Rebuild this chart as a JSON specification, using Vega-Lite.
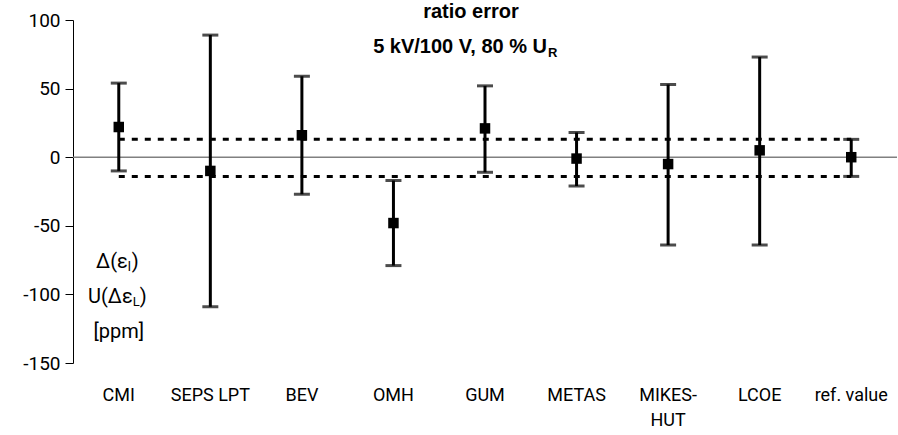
{
  "$schema": "https://vega.github.io/schema/vega-lite/v6.json",
  "width": 824,
  "height": 343,
  "autosize": "none",
  "padding": {"left": 73, "top": 20, "right": 1, "bottom": 72},
  "background": "white",
  "config": {
    "view": {"stroke": null},
    "font": "Roboto",
    "text": {"font": "Roboto"},
    "axis": {"grid": false, "title": null, "labelColor": "black", "labelFont": "Roboto", "labelFontSize": 18}
  },
  "datasets": {
    "results": [
      {"lab": "CMI", "value": 22, "lo": -10, "hi": 54},
      {"lab": "SEPS LPT", "value": -10, "lo": -109, "hi": 89},
      {"lab": "BEV", "value": 16, "lo": -27, "hi": 59},
      {"lab": "OMH", "value": -48, "lo": -79, "hi": -17},
      {"lab": "GUM", "value": 21, "lo": -11, "hi": 52},
      {"lab": "METAS", "value": -1, "lo": -21, "hi": 18},
      {"lab": "MIKES-HUT", "value": -5, "lo": -64, "hi": 53},
      {"lab": "LCOE", "value": 5, "lo": -64, "hi": 73},
      {"lab": "ref. value", "value": 0, "lo": -14, "hi": 13}
    ],
    "limits": [
      {"from": "CMI", "to": "ref. value", "u": 13},
      {"from": "CMI", "to": "ref. value", "u": -14}
    ],
    "notes": [
      {"part": "title", "lab": "GUM", "v": 105.5, "text": "ratio error"},
      {"part": "sub", "lab": "GUM", "v": 80.5, "text": "5 kV/100 V, 80 % U"},
      {"part": "subidx", "lab": "GUM", "v": 80.5, "text": "R"},
      {"part": "l1", "lab": "CMI", "v": -76.5, "text": "Δ(ε"},
      {"part": "l1idx", "lab": "CMI", "v": -76.5, "text": "l"},
      {"part": "l1end", "lab": "CMI", "v": -76.5, "text": ")"},
      {"part": "l2", "lab": "CMI", "v": -102, "text": "U(Δε"},
      {"part": "l2idx", "lab": "CMI", "v": -102, "text": "L"},
      {"part": "l2end", "lab": "CMI", "v": -102, "text": ")"},
      {"part": "l3", "lab": "CMI", "v": -127.5, "text": "[ppm]"}
    ]
  },
  "encoding": {
    "x": {
      "field": "lab", "type": "nominal", "sort": null,
      "scale": {"domain": ["CMI", "SEPS LPT", "BEV", "OMH", "GUM", "METAS", "MIKES-HUT", "LCOE", "ref. value"], "paddingInner": 0, "paddingOuter": 0},
      "axis": {"orient": "bottom", "domain": false, "ticks": false, "labelAngle": 0, "labelPadding": 23, "labelLineHeight": 25, "labelBaseline": "top", "labelFontSize": 18,
        "labelExpr": "datum.label == 'MIKES-HUT' ? ['MIKES-', 'HUT'] : datum.label"}
    }
  },
  "layer": [
    {
      "data": {"values": [{"zero": 0}]},
      "mark": {"type": "rule", "color": "#808080", "strokeWidth": 1.5},
      "encoding": {"x": null, "y": {"field": "zero", "type": "quantitative"}}
    },
    {
      "data": {"name": "limits"},
      "mark": {"type": "rule", "color": "black", "strokeWidth": 3, "strokeDash": [6, 7]},
      "encoding": {
        "x": {"field": "from", "type": "nominal"},
        "x2": {"field": "to"},
        "y": {"field": "u", "type": "quantitative"}
      }
    },
    {
      "data": {"name": "results"},
      "mark": {"type": "rule", "color": "black", "strokeWidth": 3},
      "encoding": {
        "y": {"field": "lo", "type": "quantitative",
          "scale": {"domain": [-150, 100], "nice": false, "zero": false},
          "axis": {"values": [-150, -100, -50, 0, 50, 100], "tickSize": 8, "labelPadding": 5, "domainColor": "black", "tickColor": "black", "labelFontSize": 19,
            "labelExpr": "toString(datum.value)"}},
        "y2": {"field": "hi"}
      }
    },
    {
      "data": {"name": "results"},
      "mark": {"type": "tick", "color": "black", "thickness": 3, "size": 16},
      "encoding": {"y": {"field": "hi", "type": "quantitative"}}
    },
    {
      "data": {"name": "results"},
      "mark": {"type": "tick", "color": "black", "thickness": 3, "size": 16},
      "encoding": {"y": {"field": "lo", "type": "quantitative"}}
    },
    {
      "data": {"name": "results"},
      "mark": {"type": "square", "color": "black", "filled": true, "opacity": 1, "size": 110},
      "encoding": {"y": {"field": "value", "type": "quantitative"}}
    },
    {
      "data": {"name": "notes"},
      "transform": [{"filter": "datum.part == 'title'"}],
      "mark": {"type": "text", "font": "Liberation Sans", "fontWeight": "bold", "fontSize": 20, "align": "center", "baseline": "middle", "dx": -14, "color": "black"},
      "encoding": {"y": {"field": "v", "type": "quantitative"}, "text": {"field": "text"}}
    },
    {
      "data": {"name": "notes"},
      "transform": [{"filter": "datum.part == 'sub'"}],
      "mark": {"type": "text", "font": "Liberation Sans", "fontWeight": "bold", "fontSize": 20, "align": "right", "baseline": "middle", "dx": 62, "color": "black"},
      "encoding": {"y": {"field": "v", "type": "quantitative"}, "text": {"field": "text"}}
    },
    {
      "data": {"name": "notes"},
      "transform": [{"filter": "datum.part == 'subidx'"}],
      "mark": {"type": "text", "font": "Liberation Sans", "fontWeight": "bold", "fontSize": 13, "align": "left", "baseline": "middle", "dx": 63, "dy": 6, "color": "black"},
      "encoding": {"y": {"field": "v", "type": "quantitative"}, "text": {"field": "text"}}
    },
    {
      "data": {"name": "notes"},
      "transform": [{"filter": "datum.part == 'l1'"}],
      "mark": {"type": "text", "fontSize": 20, "align": "right", "baseline": "middle", "dx": 9, "color": "black"},
      "encoding": {"y": {"field": "v", "type": "quantitative"}, "text": {"field": "text"}}
    },
    {
      "data": {"name": "notes"},
      "transform": [{"filter": "datum.part == 'l1idx'"}],
      "mark": {"type": "text", "fontSize": 13, "align": "left", "baseline": "middle", "dx": 9, "dy": 5, "color": "black"},
      "encoding": {"y": {"field": "v", "type": "quantitative"}, "text": {"field": "text"}}
    },
    {
      "data": {"name": "notes"},
      "transform": [{"filter": "datum.part == 'l1end'"}],
      "mark": {"type": "text", "fontSize": 20, "align": "left", "baseline": "middle", "dx": 13, "color": "black"},
      "encoding": {"y": {"field": "v", "type": "quantitative"}, "text": {"field": "text"}}
    },
    {
      "data": {"name": "notes"},
      "transform": [{"filter": "datum.part == 'l2'"}],
      "mark": {"type": "text", "fontSize": 20, "align": "right", "baseline": "middle", "dx": 14, "color": "black"},
      "encoding": {"y": {"field": "v", "type": "quantitative"}, "text": {"field": "text"}}
    },
    {
      "data": {"name": "notes"},
      "transform": [{"filter": "datum.part == 'l2idx'"}],
      "mark": {"type": "text", "fontSize": 13, "align": "left", "baseline": "middle", "dx": 14, "dy": 5, "color": "black"},
      "encoding": {"y": {"field": "v", "type": "quantitative"}, "text": {"field": "text"}}
    },
    {
      "data": {"name": "notes"},
      "transform": [{"filter": "datum.part == 'l2end'"}],
      "mark": {"type": "text", "fontSize": 20, "align": "left", "baseline": "middle", "dx": 21, "color": "black"},
      "encoding": {"y": {"field": "v", "type": "quantitative"}, "text": {"field": "text"}}
    },
    {
      "data": {"name": "notes"},
      "transform": [{"filter": "datum.part == 'l3'"}],
      "mark": {"type": "text", "fontSize": 20, "align": "center", "baseline": "middle", "color": "black"},
      "encoding": {"y": {"field": "v", "type": "quantitative"}, "text": {"field": "text"}}
    }
  ]
}
